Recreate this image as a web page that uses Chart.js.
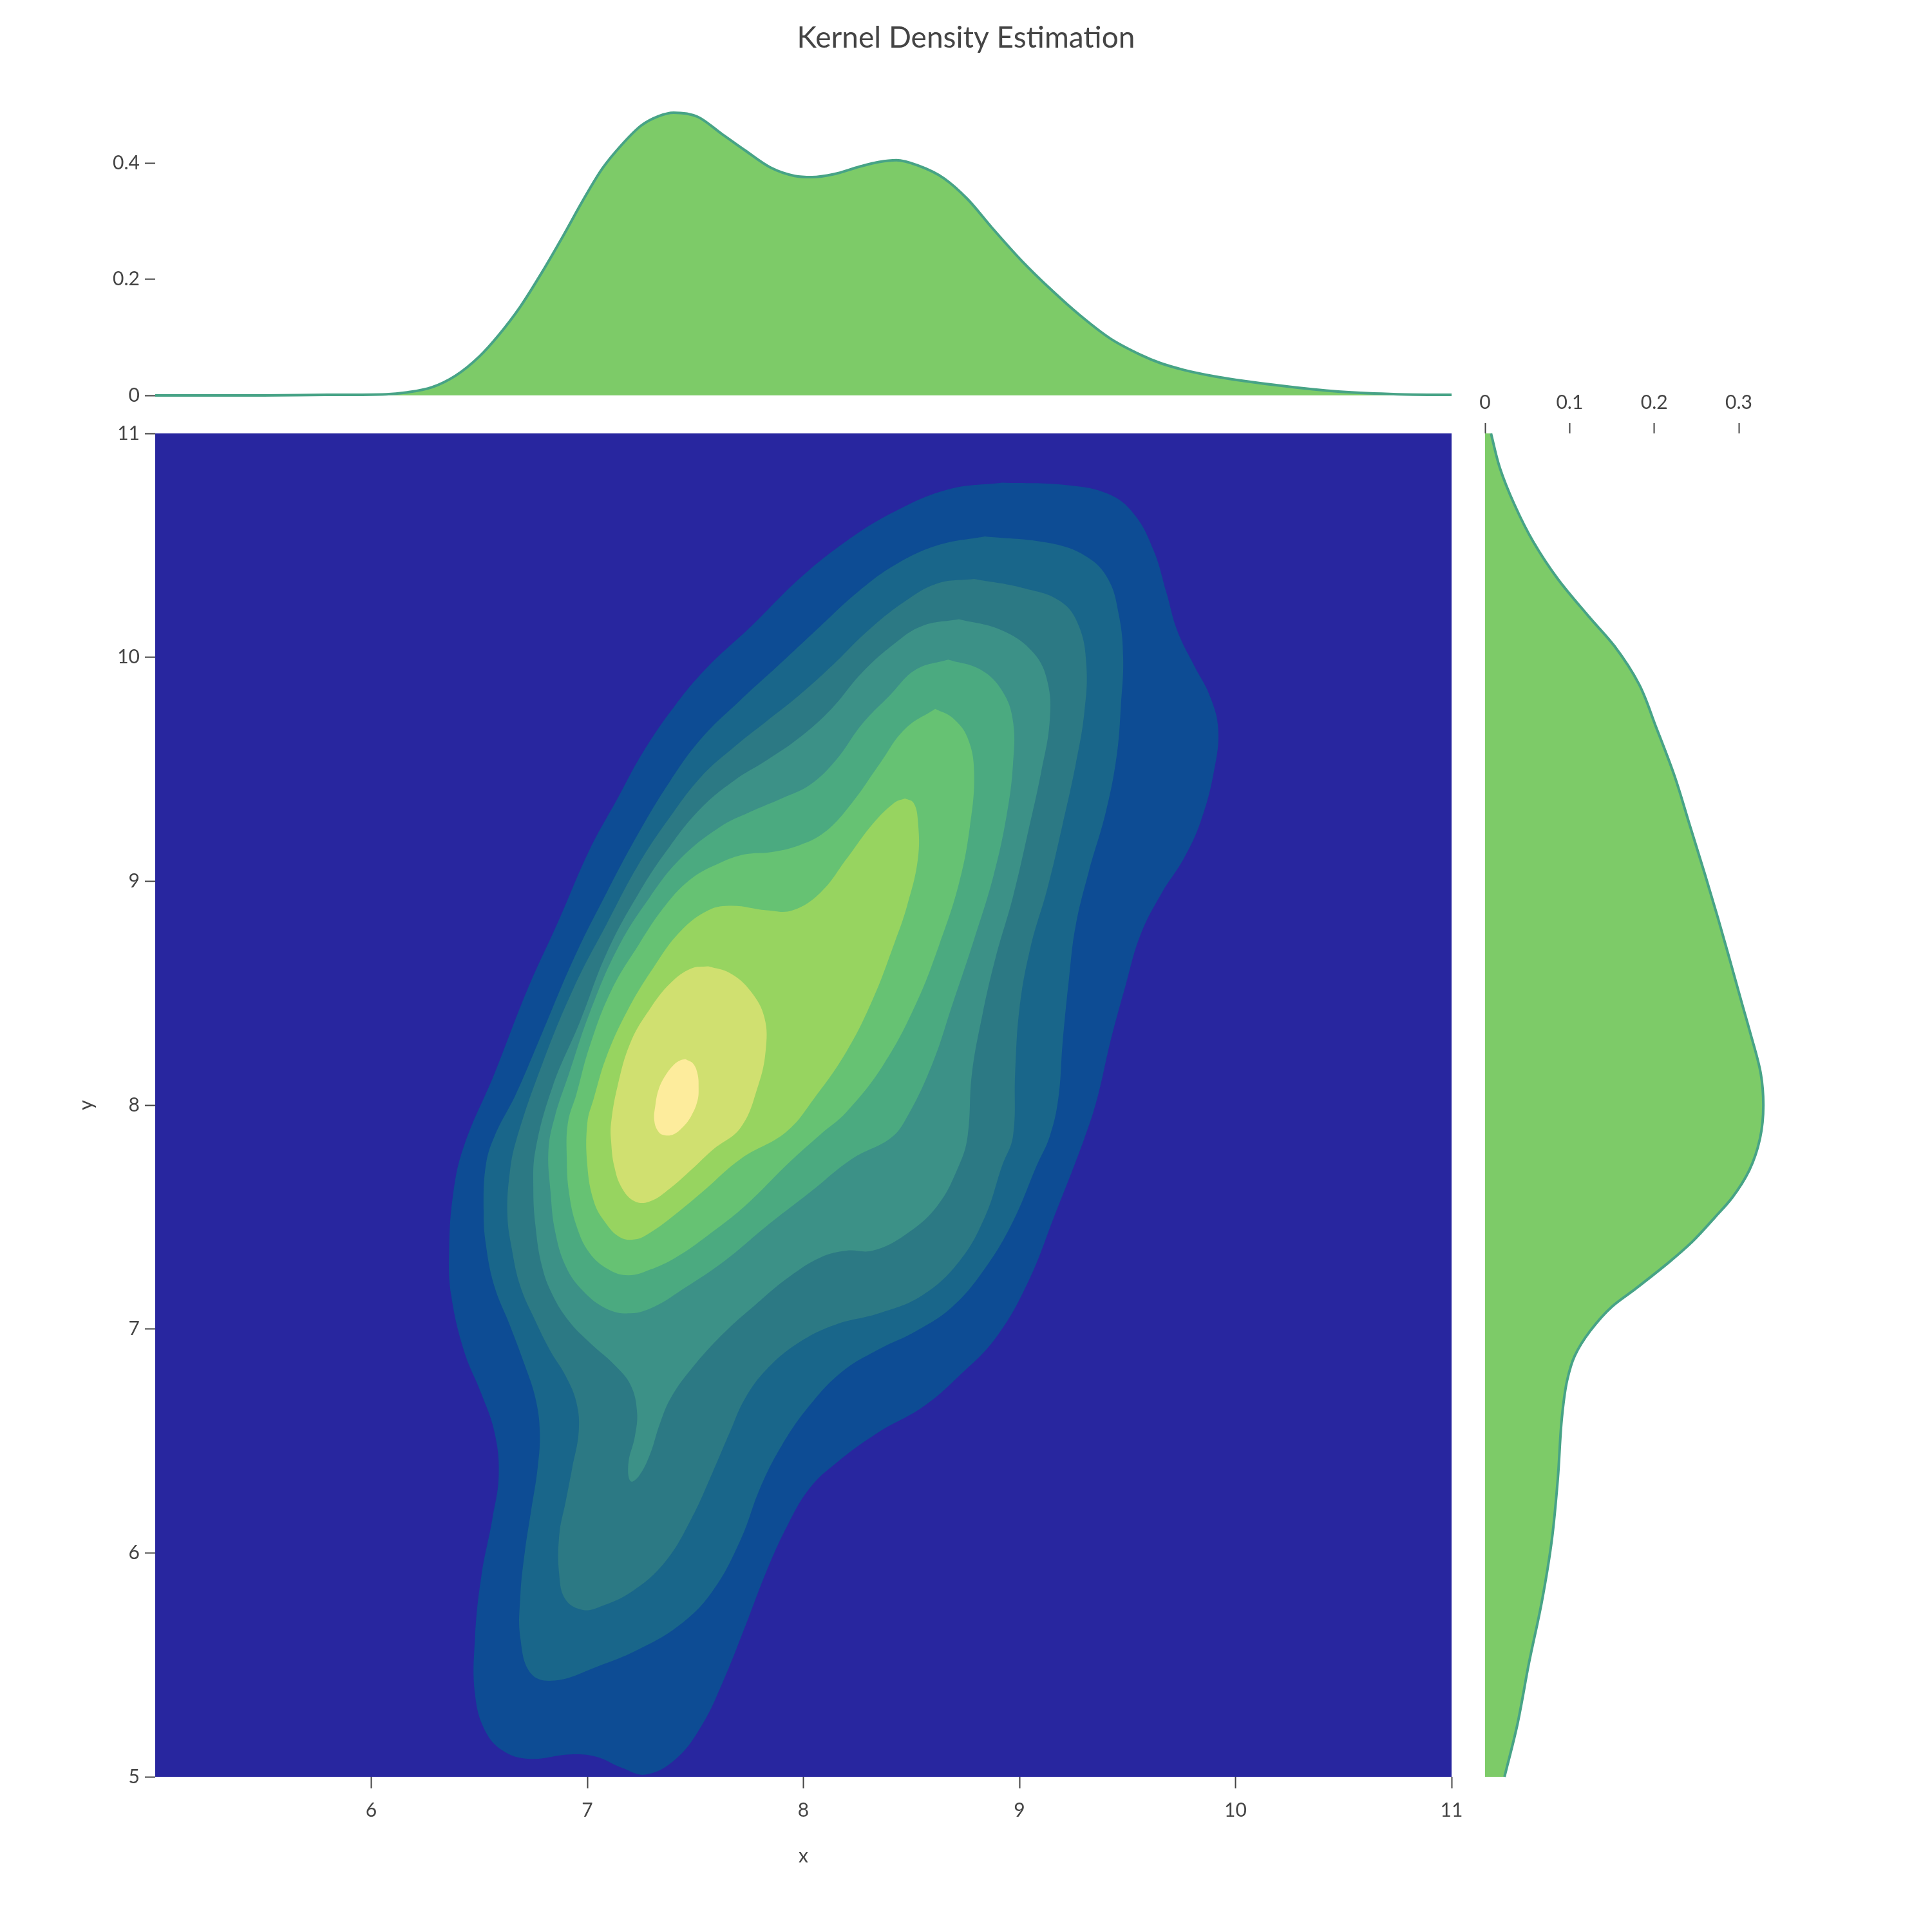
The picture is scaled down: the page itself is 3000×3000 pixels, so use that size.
<!DOCTYPE html>
<html>
<head>
<meta charset="utf-8">
<title>Kernel Density Estimation</title>
<script src="https://cdn.jsdelivr.net/npm/chart.js@4.4.1/dist/chart.umd.min.js"></script>
<style>
  html, body { margin: 0; padding: 0; background: #fff; }
  #wrap { position: relative; width: 3000px; height: 3000px; }
  canvas { position: absolute; }
</style>
</head>
<body>
<div id="wrap">
  <canvas id="mainChart" width="2300" height="2400" style="left:0;top:600px"></canvas>
  <canvas id="topChart" width="3000" height="640" style="left:0;top:0"></canvas>
  <canvas id="sideChart" width="720" height="2240" style="left:2280px;top:560px"></canvas>
</div>
<script>
// tick values
const xTicks = [6, 7, 8, 9, 10, 11];
const yTicks = [5, 6, 7, 8, 9, 10, 11];
const topTicks = [0, 0.2, 0.4];
const sideTicks = [0, 0.1, 0.2, 0.3];

// marginal density of x (top)
const topX = [5.0, 5.5, 5.8, 6.07, 6.16, 6.28, 6.39, 6.5, 6.59, 6.69, 6.79, 6.89, 6.98, 7.07, 7.16, 7.25, 7.33, 7.40,
  7.51, 7.62, 7.73, 7.85, 7.96, 8.04, 8.14, 8.26, 8.35, 8.43, 8.53, 8.65, 8.76, 8.87, 9.01, 9.15, 9.28, 9.42, 9.56,
  9.65, 9.76, 9.9, 10.0, 10.25, 10.5, 10.75, 11.0];
const topDensity = [0, 0, 0.001, 0.002, 0.005, 0.014, 0.034, 0.067, 0.104, 0.153, 0.212, 0.276, 0.336, 0.391, 0.432,
  0.465, 0.481, 0.487, 0.480, 0.451, 0.422, 0.392, 0.378, 0.376, 0.381, 0.394, 0.402, 0.405, 0.396, 0.374, 0.338,
  0.290, 0.232, 0.181, 0.138, 0.098, 0.070, 0.056, 0.044, 0.033, 0.027, 0.015, 0.006, 0.002, 0.001];

// marginal density of y (right)
const sideY = [5.0, 5.23, 5.51, 5.78, 6.06, 6.33, 6.61, 6.77, 6.88, 6.99, 7.10, 7.18, 7.30, 7.39, 7.50, 7.586, 7.71,
  7.85, 8.0, 8.14, 8.33, 8.45, 8.64, 8.84, 9.03, 9.25, 9.47, 9.69, 9.88, 10.05, 10.185, 10.35, 10.516, 10.68,
  10.846, 11.0];
const sideDensity = [0.023, 0.038, 0.052, 0.067, 0.079, 0.086, 0.091, 0.097, 0.106, 0.124, 0.150, 0.178, 0.218,
  0.245, 0.272, 0.292, 0.3125, 0.325, 0.329, 0.326, 0.313, 0.304, 0.29, 0.275, 0.26, 0.242, 0.224, 0.202, 0.182,
  0.153, 0.122, 0.086, 0.057, 0.035, 0.0175, 0.007];

// contour outlines [x, y], outermost level first
const level1 = [[8.92,10.78],[9.21,10.77],[9.41,10.73],[9.53,10.64],[9.62,10.48],[9.68,10.29],[9.73,10.12],[9.81,9.96],
  [9.88,9.83],[9.92,9.68],[9.90,9.49],[9.84,9.27],[9.76,9.10],[9.66,8.95],[9.56,8.76],[9.49,8.53],[9.42,8.28],
  [9.36,8.03],[9.30,7.85],[9.16,7.50],[9.04,7.21],[8.89,6.96],[8.72,6.79],[8.55,6.65],[8.35,6.54],
  [8.15,6.40],[8.03,6.29],[7.93,6.13],[7.83,5.92],[7.73,5.67],[7.63,5.43],[7.53,5.23],[7.41,5.08],[7.27,5.01],
  [7.16,5.04],[7.04,5.09],[6.92,5.10],[6.74,5.08],[6.62,5.11],[6.53,5.20],[6.48,5.37],[6.48,5.62],[6.51,5.90],
  [6.56,6.15],[6.59,6.35],[6.57,6.54],[6.51,6.71],[6.43,6.90],[6.37,7.15],[6.36,7.34],[6.38,7.61],[6.43,7.82],
  [6.57,8.14],[6.72,8.51],[6.87,8.83],[7.01,9.14],[7.14,9.37],[7.26,9.58],[7.41,9.79],[7.56,9.96],[7.76,10.14],
  [7.98,10.35],[8.20,10.52],[8.42,10.65],[8.67,10.75],[8.92,10.78]];
const level2 = [[8.84,10.54],[9.14,10.51],[9.31,10.45],[9.41,10.35],[9.46,10.19],[9.48,10.00],[9.47,9.79],[9.45,9.56],
  [9.40,9.31],[9.32,9.04],[9.26,8.80],[9.23,8.57],[9.20,8.28],[9.18,8.03],[9.14,7.86],[9.08,7.73],[8.97,7.48],
  [8.84,7.27],[8.69,7.10],[8.52,6.99],[8.35,6.91],[8.18,6.81],[8.03,6.66],[7.90,6.48],[7.80,6.29],[7.71,6.06],
  [7.58,5.83],[7.43,5.68],[7.24,5.57],[7.04,5.49],[6.85,5.43],[6.74,5.46],[6.69,5.62],[6.69,5.81],[6.71,6.00],
  [6.74,6.19],[6.77,6.38],[6.78,6.54],[6.76,6.69],[6.71,6.84],[6.64,7.02],[6.57,7.19],[6.53,7.38],[6.52,7.53],
  [6.53,7.73],[6.57,7.86],[6.67,8.05],[6.79,8.32],[6.94,8.66],[7.09,8.95],[7.24,9.22],[7.385,9.45],[7.53,9.64],
  [7.71,9.81],[7.88,9.96],[8.08,10.14],[8.25,10.29],[8.42,10.41],[8.62,10.50],[8.84,10.54]];
const level3 = [[8.79,10.35],[9.015,10.31],[9.19,10.25],[9.275,10.14],[9.31,9.96],[9.30,9.75],[9.26,9.52],[9.20,9.255],
  [9.13,8.97],[9.05,8.70],[9.00,8.43],[8.98,8.14],[8.97,7.86],[8.92,7.73],[8.84,7.50],[8.72,7.30],[8.55,7.15],
  [8.35,7.07],[8.15,7.02],[7.98,6.94],[7.83,6.82],[7.73,6.69],[7.66,6.54],[7.58,6.36],[7.48,6.15],[7.36,5.96],
  [7.21,5.83],[7.06,5.76],[6.98,5.745],[6.90,5.79],[6.87,5.90],[6.87,6.08],[6.90,6.23],[6.93,6.38],[6.96,6.54],
  [6.95,6.67],[6.90,6.79],[6.83,6.90],[6.76,7.035],[6.69,7.19],[6.65,7.36],[6.63,7.51],[6.64,7.69],[6.67,7.84],
  [6.79,8.18],[6.94,8.53],[7.09,8.81],[7.24,9.08],[7.385,9.29],[7.53,9.47],[7.68,9.60],[7.83,9.715],[7.98,9.83],
  [8.13,9.96],[8.30,10.12],[8.47,10.25],[8.62,10.33],[8.79,10.35]];
const level4 = [[8.72,10.17],[8.92,10.12],[9.065,10.02],[9.13,9.89],[9.14,9.715],[9.10,9.485],[9.04,9.22],[8.97,8.93],
  [8.89,8.66],[8.83,8.41],[8.78,8.14],[8.76,7.86],[8.72,7.73],[8.62,7.55],[8.47,7.42],[8.32,7.35],[8.20,7.35],
  [8.08,7.32],[7.93,7.23],[7.78,7.11],[7.63,6.98],[7.48,6.82],[7.385,6.69],[7.335,6.575],[7.29,6.44],[7.24,6.345],
  [7.20,6.32],[7.19,6.40],[7.22,6.52],[7.23,6.63],[7.20,6.75],[7.125,6.84],[7.01,6.94],[6.915,7.035],[6.84,7.15],
  [6.79,7.28],[6.76,7.46],[6.75,7.63],[6.76,7.80],[6.84,8.085],[6.965,8.37],[7.09,8.68],[7.24,8.95],[7.385,9.16],
  [7.53,9.33],[7.68,9.45],[7.83,9.54],[7.98,9.64],[8.13,9.77],[8.27,9.93],[8.42,10.06],[8.55,10.14],[8.72,10.17]];
const level5 = [[8.67,9.99],[8.82,9.945],[8.92,9.85],[8.97,9.715],[8.97,9.52],[8.94,9.29],[8.88,9.025],[8.79,8.74],
  [8.69,8.45],[8.595,8.18],[8.47,7.93],[8.40,7.85],[8.225,7.76],[8.03,7.61],[7.83,7.46],[7.63,7.30],[7.43,7.17],
  [7.31,7.10],[7.20,7.07],[7.09,7.09],[6.98,7.17],[6.90,7.28],[6.85,7.44],[6.83,7.61],[6.82,7.80],[6.85,7.95],
  [6.915,8.14],[7.01,8.41],[7.14,8.70],[7.29,8.93],[7.43,9.10],[7.61,9.24],[7.755,9.31],[7.90,9.37],[8.03,9.43],
  [8.15,9.54],[8.27,9.70],[8.40,9.83],[8.52,9.945],[8.67,9.99]];
const level6 = [[8.61,9.77],[8.69,9.73],[8.76,9.64],[8.79,9.485],[8.77,9.24],[8.72,8.99],[8.63,8.72],[8.52,8.45],
  [8.37,8.18],[8.20,7.97],[8.08,7.87],[7.93,7.74],[7.73,7.55],[7.56,7.42],[7.41,7.32],[7.29,7.265],[7.19,7.24],
  [7.10,7.265],[7.01,7.34],[6.95,7.46],[6.915,7.61],[6.905,7.76],[6.91,7.92],[6.95,8.05],[7.01,8.26],[7.11,8.51],
  [7.24,8.72],[7.36,8.89],[7.48,9.01],[7.61,9.08],[7.73,9.12],[7.85,9.13],[7.98,9.16],[8.10,9.22],[8.225,9.35],
  [8.35,9.52],[8.47,9.68],[8.61,9.77]];
const level7 = [[8.47,9.37],[8.51,9.35],[8.53,9.27],[8.53,9.10],[8.48,8.89],[8.42,8.72],[8.32,8.47],[8.20,8.24],
  [8.05,8.03],[7.92,7.88],[7.71,7.76],[7.53,7.61],[7.385,7.495],[7.29,7.43],[7.22,7.40],[7.15,7.41],[7.08,7.48],
  [7.03,7.57],[7.00,7.73],[7.00,7.92],[7.03,8.03],[7.09,8.22],[7.19,8.43],[7.31,8.62],[7.43,8.775],[7.56,8.87],
  [7.67,8.89],[7.83,8.87],[7.95,8.87],[8.08,8.95],[8.20,9.10],[8.32,9.255],[8.42,9.35],[8.47,9.37]];
const level8 = [[7.56,8.62],[7.66,8.59],[7.755,8.51],[7.82,8.39],[7.825,8.24],[7.79,8.085],[7.71,7.90],[7.58,7.80],
  [7.48,7.71],[7.385,7.63],[7.29,7.57],[7.22,7.57],[7.16,7.63],[7.125,7.725],[7.11,7.84],[7.11,7.92],[7.14,8.085],
  [7.20,8.28],[7.29,8.43],[7.385,8.545],[7.48,8.61],[7.56,8.62]];
const level9 = [[7.455,8.205],[7.49,8.185],[7.51,8.14],[7.515,8.08],[7.51,8.02],[7.48,7.95],[7.44,7.90],[7.40,7.87],
  [7.36,7.865],[7.33,7.88],[7.31,7.93],[7.315,8.00],[7.33,8.07],[7.36,8.13],[7.40,8.18],[7.43,8.20],[7.455,8.205]];

const levels = [level1, level2, level3, level4, level5, level6, level7, level8, level9];
const levelColors = ['#0d4c94', '#19668a', '#2c7984', '#3c9187', '#4baa80', '#66c273', '#97d460', '#d0e070', '#fdec9c'];
const bgColor = '#28269f';
const fillGreen = '#7dcb68';
const lineTeal = '#47a386';
const textColor = '#444';
const fontFamily = 'Lato, "Open Sans", sans-serif';

Chart.defaults.font.family = fontFamily;
Chart.defaults.color = textColor;

const fixTicks = vals => scale => { scale.ticks = vals.map(v => ({value: v})); };
const tickLabel = v => String(v);
const tickGrid = {drawOnChartArea: false, tickLength: 16, tickWidth: 2, tickColor: textColor};

const plotBg = {
  id: 'plotBg',
  beforeDatasetsDraw(chart) {
    const {ctx, chartArea: a} = chart;
    ctx.save();
    ctx.fillStyle = bgColor;
    ctx.fillRect(a.left, a.top, a.width, a.height);
    ctx.restore();
  }
};

const base = {
  responsive: false,
  animation: false,
  devicePixelRatio: 1,
  events: [],
};

// main contour plot
new Chart(document.getElementById('mainChart'), {
  type: 'scatter',
  data: {
    datasets: levels.map((pts, i) => ({
      data: pts.map(p => ({x: p[0], y: p[1]})),
      showLine: true,
      fill: 'shape',
      backgroundColor: levelColors[i],
      borderWidth: 0,
      pointRadius: 0,
      tension: 0.4,
      order: levels.length - i
    }))
  },
  options: {
    ...base,
    layout: {padding: {top: 73, right: 46, left: 0, bottom: 0}},
    plugins: {legend: {display: false}, tooltip: {enabled: false}},
    scales: {
      x: {
        type: 'linear', min: 5, max: 11,
        afterBuildTicks: fixTicks(xTicks),
        afterFit: s => { s.height = 241; },
        grid: {...tickGrid, tickLength: 18},
        border: {display: false},
        ticks: {padding: 16, font: {size: 30}, callback: tickLabel, maxRotation: 0, autoSkip: false},
        title: {display: true, text: 'x', font: {size: 30}, padding: {top: 0, bottom: 100}}
      },
      y: {
        type: 'linear', min: 5, max: 11,
        afterBuildTicks: fixTicks(yTicks),
        afterFit: s => { s.width = 241; },
        grid: tickGrid,
        border: {display: false},
        ticks: {padding: 8, font: {size: 30}, callback: tickLabel, autoSkip: false},
        title: {display: true, text: 'y', font: {size: 30}, padding: {top: 116, bottom: 0}}
      }
    }
  },
  plugins: [plotBg]
});

// top marginal
new Chart(document.getElementById('topChart'), {
  type: 'scatter',
  data: {
    datasets: [{
      data: topX.map((x, i) => ({x, y: topDensity[i]})),
      showLine: true,
      fill: 'origin',
      backgroundColor: fillGreen,
      borderColor: lineTeal,
      borderWidth: 4,
      pointRadius: 0,
      cubicInterpolationMode: 'monotone',
      clip: 6
    }]
  },
  options: {
    ...base,
    layout: {padding: {top: 0, right: 0, left: 0, bottom: 22}},
    plugins: {
      legend: {display: false}, tooltip: {enabled: false},
      title: {display: true, text: 'Kernel Density Estimation', color: textColor,
        font: {size: 46, weight: 'normal'}, padding: {top: 32, bottom: 85}}
    },
    scales: {
      x: {type: 'linear', min: 5, max: 11, display: false},
      y: {
        type: 'linear', min: 0, max: 0.49,
        afterBuildTicks: fixTicks(topTicks),
        afterFit: s => { s.width = 241; },
        grid: tickGrid,
        border: {display: false},
        ticks: {padding: 8, font: {size: 30}, callback: tickLabel, autoSkip: false}
      },
      spacer: {
        type: 'linear', position: 'right', display: true,
        afterFit: s => { s.width = 746; },
        grid: {display: false}, border: {display: false}, ticks: {display: false}
      }
    }
  }
});

// right marginal
new Chart(document.getElementById('sideChart'), {
  type: 'scatter',
  data: {
    datasets: [{
      data: sideY.map((y, i) => ({x: sideDensity[i], y})),
      showLine: true,
      fill: 'origin',
      backgroundColor: fillGreen,
      borderColor: lineTeal,
      borderWidth: 4,
      pointRadius: 0,
      cubicInterpolationMode: 'monotone',
      clip: 6
    }]
  },
  options: {
    ...base,
    indexAxis: 'y',
    layout: {padding: {top: 0, right: 254, left: 26, bottom: 41}},
    plugins: {legend: {display: false}, tooltip: {enabled: false}},
    scales: {
      x: {
        type: 'linear', position: 'top', min: 0, max: 0.335,
        afterBuildTicks: fixTicks(sideTicks),
        afterFit: s => { s.height = 113; },
        grid: tickGrid,
        border: {display: false},
        ticks: {padding: 14, font: {size: 30}, callback: tickLabel, maxRotation: 0, autoSkip: false}
      },
      y: {type: 'linear', min: 5, max: 11, display: false}
    }
  }
});
</script>
</body>
</html>
